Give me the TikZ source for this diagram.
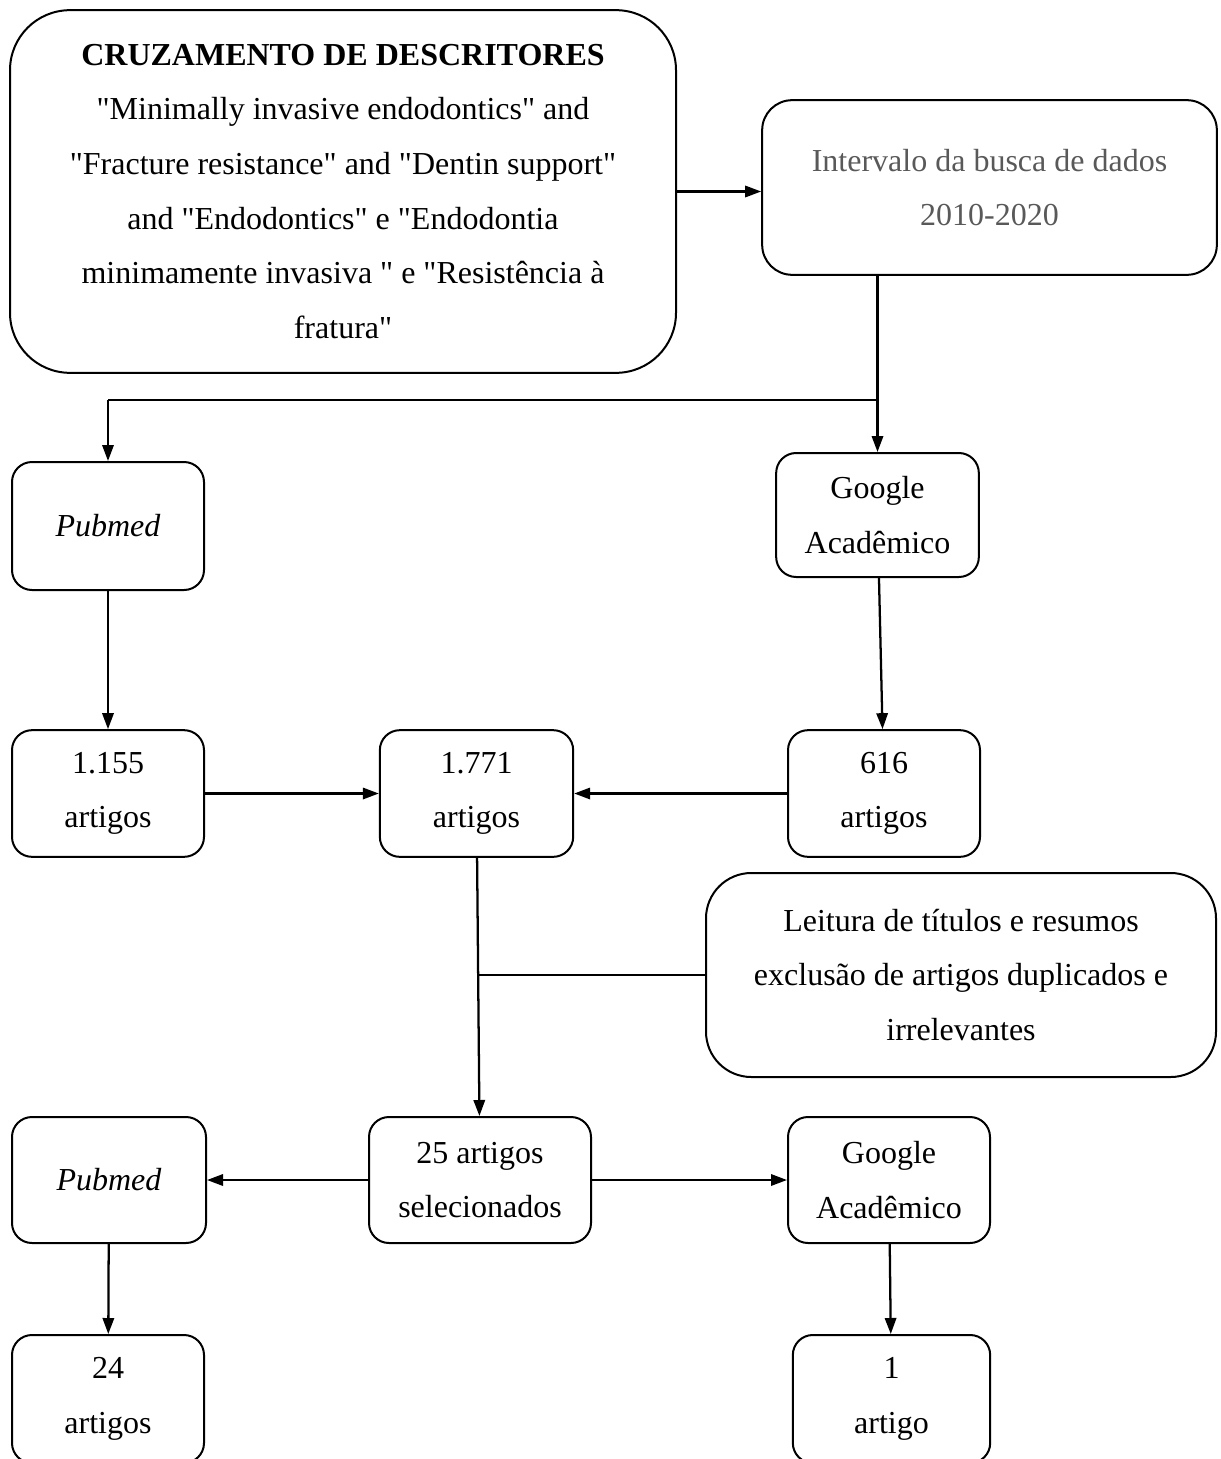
\documentclass[tikz,border=0pt]{standalone}
\usepackage{fontspec}
\setmainfont{Liberation Serif}[Ligatures=TeXOff]
\usetikzlibrary{arrows.meta}
\definecolor{cinza}{HTML}{595959}

\begin{document}
\begin{tikzpicture}[x=0.75pt,y=-0.75pt,
  caixa/.style={draw, line width=1.5pt, rounded corners=15pt, align=center,
    inner sep=0pt, font=\fontsize{24}{41}\selectfont},
  seta/.style={line width=1.7pt, -{Triangle[length=12pt,width=8.5pt]}},
  fio/.style={line width=0.8pt}]
\useasboundingbox (0,0) rectangle (1220,1459);
\clip (0,0) rectangle (1220,1459);

% linha de cima
\node[caixa, rounded corners=45pt, minimum width=499.5pt, minimum height=272pt] (cruz) at (343,191.5)
  {\textbf{CRUZAMENTO DE DESCRITORES}\\
   "Minimally invasive endodontics" and\\
   "Fracture resistance" and "Dentin support"\\
   and "Endodontics" e "Endodontia\\
   minimamente invasiva " e "Resistência à\\
   fratura"};
\node[caixa, rounded corners=22.5pt, text=cinza, minimum width=341pt, minimum height=131pt] (interv) at (989.5,187.5)
  {Intervalo da busca de dados\\2010-2020};

% bases
\node[caixa, minimum width=144pt, minimum height=96pt] (pubmed1) at (108,526) {\textit{Pubmed}};
\node[caixa, minimum width=152pt, minimum height=93pt] (google1) at (877.5,515) {Google\\Acadêmico};

% resultados
\node[caixa, minimum width=144pt, minimum height=95pt] (res1) at (108,793.5) {1.155\\artigos};
\node[caixa, minimum width=145pt, minimum height=95pt] (res2) at (476.5,793.5) {1.771\\artigos};
\node[caixa, minimum width=144pt, minimum height=95pt] (res3) at (884,793.5) {616\\artigos};

\node[caixa, rounded corners=34pt, minimum width=382.5pt, minimum height=153pt] (leitura) at (961,975)
  {Leitura de títulos e resumos\\exclusão de artigos duplicados e\\irrelevantes};

% selecionados
\node[caixa, minimum width=166.5pt, minimum height=94.5pt] (sel) at (480,1180) {25 artigos\\selecionados};
\node[caixa, minimum width=145.5pt, minimum height=94.5pt] (pubmed2) at (109,1180) {\textit{Pubmed}};
\node[caixa, minimum width=151.5pt, minimum height=94.5pt] (google2) at (889,1180) {Google\\Acadêmico};

\node[caixa, minimum width=144pt, minimum height=96pt] (fin1) at (108,1399) {24\\artigos};
\node[caixa, minimum width=148pt, minimum height=96pt] (fin2) at (891.5,1399) {1\\artigo};

% setas
\coordinate (desvio) at (877.5,400);
\draw[seta] (cruz.east) -- (cruz.east -| interv.west);
\draw[seta] (google1.north |- interv.south) -- (google1.north);
\draw[fio] (desvio) -- (desvio -| pubmed1.north);
\draw[seta] (desvio -| pubmed1.north) -- (pubmed1.north);
\draw[seta] (pubmed1) -- (res1);
\draw[seta] (google1) -- (res3);
\draw[seta] (res1) -- (res2);
\draw[seta] (res3) -- (res2);
\draw[seta] (res2) -- (sel);
\draw[fio] (leitura.west) -- (leitura.west -| res2.south);
\draw[seta] (sel) -- (pubmed2);
\draw[seta] (sel) -- (google2);
\draw[seta] (pubmed2) -- (fin1);
\draw[seta] (google2) -- (fin2);
\end{tikzpicture}
\end{document}
